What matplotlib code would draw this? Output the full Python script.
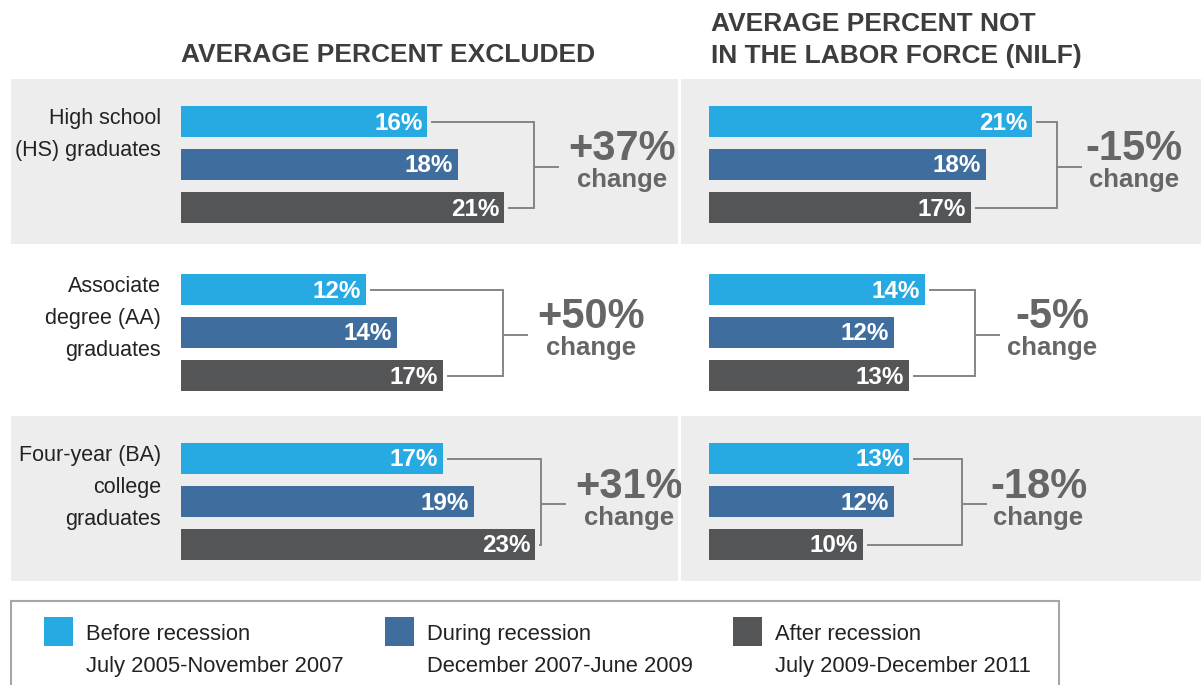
import matplotlib
matplotlib.use("Agg")
import matplotlib.pyplot as plt
from matplotlib import font_manager
from matplotlib.patches import Rectangle

# fonts: Arial-like everywhere (no condensed face installed)
names = {f.name for f in font_manager.fontManager.ttflist}
BOLD = "Liberation Sans" if "Liberation Sans" in names else "DejaVu Sans"
NARROW = BOLD

# data
groups = ["High school\n(HS) graduates",
          "Associate\ndegree (AA)\ngraduates",
          "Four-year (BA)\ncollege\ngraduates"]
excluded_before = [16, 12, 17]
excluded_during = [18, 14, 19]
excluded_after = [21, 17, 23]
nilf_before = [21, 14, 13]
nilf_during = [18, 12, 12]
nilf_after = [17, 13, 10]
excluded_change = ["+37%", "+50%", "+31%"]
nilf_change = ["-15%", "-5%", "-18%"]
periods = ["Before recession", "During recession", "After recession"]
period_dates = ["July 2005-November 2007", "December 2007-June 2009",
                "July 2009-December 2011"]

colors = ["#27aae1", "#3f6e9e", "#545557"]
panel_bg = "#ededed"
bracket_col = "#858585"
change_col = "#666666"
title_col = "#3d3d3d"

# layout (pixels)
W, H = 1201, 685
PX = 15.4        # pixels per percent point
STEP = 43        # pixels between bars
panels = [(11, 678, 181), (681, 1201, 709)]   # x0, x1, bar origin
row_centers = [164.5, 332.5, 501.5]
row_bg = [True, False, True]
bracket_x = [[22.9, 20.9, 23.4], [22.6, 17.3, 16.4]]
text_off = [64, 53]

fig = plt.figure(figsize=(W / 100, H / 100), dpi=100)
fig.patch.set_facecolor("white")

series = [
    (excluded_before, excluded_during, excluded_after, excluded_change),
    (nilf_before, nilf_during, nilf_after, nilf_change),
]

for p, (x0, x1, org) in enumerate(panels):
    before, during, after, change = series[p]
    for r, c in enumerate(row_centers):
        top = c - 2 * STEP
        ax = fig.add_axes([x0 / W, 1 - (top + 165) / H, (x1 - x0) / W, 165 / H])
        ax.set_xlim((x0 - org) / PX, (x1 - org) / PX)
        ax.set_ylim(1 + (top + 165 - c) / STEP, 1 - (c - top) / STEP)
        ax.set_facecolor(panel_bg if row_bg[r] else "white")
        ax.set_xticks([])
        ax.set_yticks([])
        for s in ax.spines.values():
            s.set_visible(False)

        vals = [before[r], during[r], after[r]]
        ax.barh(range(3), vals, height=31 / STEP, color=colors, left=0)
        for i, v in enumerate(vals):
            ax.text(v - 5 / PX, i + 8 / STEP, f"{v}%", ha="right", va="baseline",
                    color="white", fontsize=17.5, fontweight="bold", family=BOLD)

        # bracket
        bx = bracket_x[p][r]
        gap = 5 / PX
        stem = 24 / PX
        ax.plot([vals[0] + gap, bx, bx, vals[2] + gap], [0, 0, 2, 2],
                color=bracket_col, lw=1.4, solid_joinstyle="miter")
        ax.plot([bx, bx + stem], [1.05, 1.05], color=bracket_col, lw=1.4)
        tx = bx + stem + text_off[p] / PX
        ax.text(tx, 1 - 4 / STEP, change[r], ha="center", va="baseline",
                color=change_col, fontsize=30, fontweight="bold", family=BOLD)
        ax.text(tx, 1 + 23 / STEP, "change", ha="center", va="baseline",
                color=change_col, fontsize=18.5, fontweight="bold", family=BOLD)

        if p == 0:
            for k, line in enumerate(groups[r].split("\n")):
                ax.text((161 - org) / PX, -31 / STEP / 2 + (18 + 32 * k) / STEP, line,
                        ha="right", va="baseline", color="#222222",
                        fontsize=15.5, family=NARROW)

# column titles
fig.text(181 / W, 1 - 62 / H, "AVERAGE PERCENT EXCLUDED", ha="left", va="baseline",
         fontsize=19, fontweight="bold", color=title_col, family=BOLD)
fig.text(711 / W, 1 - 31 / H, "AVERAGE PERCENT NOT", ha="left", va="baseline",
         fontsize=19, fontweight="bold", color=title_col, family=BOLD)
fig.text(711 / W, 1 - 63 / H, "IN THE LABOR FORCE (NILF)", ha="left", va="baseline",
         fontsize=19, fontweight="bold", color=title_col, family=BOLD)

# legend box
lax = fig.add_axes([11 / W, 0, 1048 / W, 84 / H])
lax.set_xlim(0, 1048)
lax.set_ylim(84, 0)
lax.set_xticks([])
lax.set_yticks([])
for side, s in lax.spines.items():
    s.set_color("#a6a6a6")
    s.set_linewidth(1.5)
lax.spines["bottom"].set_visible(False)
for k, x in enumerate([33, 374, 722]):
    lax.add_patch(Rectangle((x, 16), 29, 29, color=colors[k], lw=0))
    lax.text(x + 42, 39, periods[k], ha="left", va="baseline", fontsize=15.8,
             color="#222222", family=NARROW)
    lax.text(x + 42, 71, period_dates[k], ha="left", va="baseline", fontsize=15.8,
             color="#222222", family=NARROW)

fig.savefig("out.png", dpi=100)
